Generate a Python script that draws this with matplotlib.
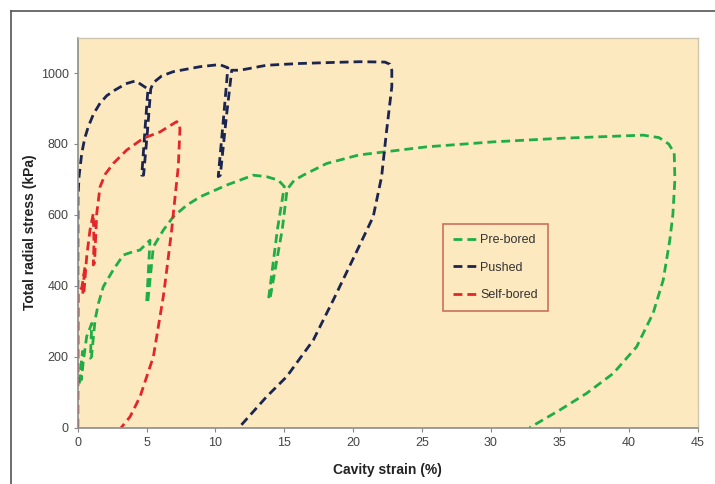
import matplotlib
matplotlib.use("Agg")
import matplotlib.pyplot as plt
from matplotlib.lines import Line2D

plt.rcParams["font.family"] = ["Liberation Sans", "DejaVu Sans"]

# cavity strain (%) / total radial stress (kPa)
pre_x = [0.12, 0.35, 0.25, 0.45, 0.65, 1.02, 0.92, 1.0, 1.26, 1.5, 1.86, 2.58, 3.31, 4.0,
         4.52, 5.25, 5.1, 5.0, 5.1, 5.49, 6.21, 6.94, 7.9, 8.88, 10.8, 12.74, 13.7, 14.56,
         15.0, 14.5, 13.85, 13.95, 14.85, 15.2, 15.7, 16.37, 18.07, 20.4, 25.33, 30.16,
         35.0, 41.05, 42.2, 42.9, 43.3, 43.35, 43.2, 42.98, 42.5, 41.77, 40.57, 38.87,
         36.94, 35.0, 32.8]
pre_y = [125, 215, 135, 200, 257, 294, 196, 200, 304, 350, 398, 445, 487, 496,
         501, 529, 420, 351, 360, 510, 557, 595, 627, 651, 684, 712, 708, 698,
         680, 560, 362, 362, 560, 672, 697, 712, 745, 769, 792, 806,
         816, 825, 818, 800, 775, 700, 600, 529, 416, 323, 228, 153,
         97, 50, 0]

push_x = [0, 0, 0.02, 0.1, 0.29, 0.5, 0.77, 1.15, 1.62, 2.1, 2.7, 3.5, 4.2, 5.1, 4.9,
          4.65, 4.78, 5.05, 5.3, 5.49, 6.1, 6.94, 8.88, 10.3, 10.9, 10.6, 10.2, 10.35,
          10.8, 11.18, 11.78, 13.7, 16.1, 18.55, 20.5, 22.3, 22.65, 22.8, 22.8, 22.4,
          22.06, 21.45, 20.36, 18.55, 17.1, 15.17, 13.7, 11.7]
push_y = [0, 300, 650, 710, 773, 815, 849, 885, 915, 936, 952, 970, 978, 955, 850,
          712, 712, 830, 955, 973, 992, 1004, 1018, 1024, 1015, 880, 708, 712,
          880, 1008, 1008, 1022, 1027, 1030, 1032, 1031, 1025, 1008, 961, 830,
          708, 595, 506, 360, 247, 144, 87, 0]

self_x = [0, 0.03, 0.3, 0.53, 0.45, 0.36, 0.45, 0.65, 0.89, 1.13, 1.18, 1.13, 1.22,
          1.38, 1.62, 2.0, 2.58, 3.56, 4.76, 5.97, 7.18, 7.38, 7.42, 7.3, 6.94, 6.82,
          6.34, 6.21, 5.49, 4.52, 3.8, 3.15]
self_y = [0, 380, 395, 454, 420, 374, 380, 482, 557, 604, 520, 459, 465,
          604, 679, 715, 745, 783, 816, 834, 863, 858, 840, 736, 604, 557,
          407, 369, 200, 87, 31, 0]

x_ticks = [0, 5, 10, 15, 20, 25, 30, 35, 40, 45]
y_ticks = [0, 200, 400, 600, 800, 1000]

fig = plt.figure(figsize=(7.15, 4.84), dpi=100)
ax = fig.add_axes([0.1087, 0.1163, 0.867, 0.806])
ax.set_facecolor("#fde9bf")

dash = (3.2, 1.8)
ax.plot(pre_x, pre_y, color="#1fae45", lw=2.0, dashes=dash, label="Pre-bored")
ax.plot(push_x, push_y, color="#1b2550", lw=2.0, dashes=dash, label="Pushed")
ax.plot(self_x, self_y, color="#e3262a", lw=2.0, dashes=dash, label="Self-bored")

ax.set_xlim(0, 45)
ax.set_ylim(0, 1100)
ax.set_xticks(x_ticks)
ax.set_yticks(y_ticks)
ax.tick_params(axis="both", colors="#888888", labelcolor="#444444", labelsize=9,
               length=3, direction="out")
for side in ("left", "bottom"):
    ax.spines[side].set_color("#8c8c8c")
    ax.spines[side].set_linewidth(1.2)
for side in ("top", "right"):
    ax.spines[side].set_color("#cfc6b0")
    ax.spines[side].set_linewidth(1.0)

ax.set_xlabel("Cavity strain (%)", fontsize=10, fontweight="bold", color="#222222", labelpad=10)
ax.set_ylabel("Total radial stress (kPa)", fontsize=10, fontweight="bold", color="#222222", labelpad=3)

leg = ax.legend(loc="upper left", bbox_to_anchor=(0.589, 0.522), borderaxespad=0,
                fancybox=False, fontsize=9, handlelength=2.0, handletextpad=0.2,
                labelspacing=1.25, borderpad=0.8, framealpha=1.0, facecolor="#fde9bf")
leg.get_frame().set_edgecolor("#cc6f5c")
leg.get_frame().set_linewidth(1.2)
for t in leg.get_texts():
    t.set_color("#333333")

# outer frame (left and top edges only visible in the reference)
fig.add_artist(Line2D([11 / 715, 11 / 715], [0, 1 - 11 / 484], color="#555555", lw=1.2))
fig.add_artist(Line2D([11 / 715, 1], [1 - 11 / 484, 1 - 11 / 484], color="#555555", lw=1.2))

fig.savefig("out.png", dpi=100)
